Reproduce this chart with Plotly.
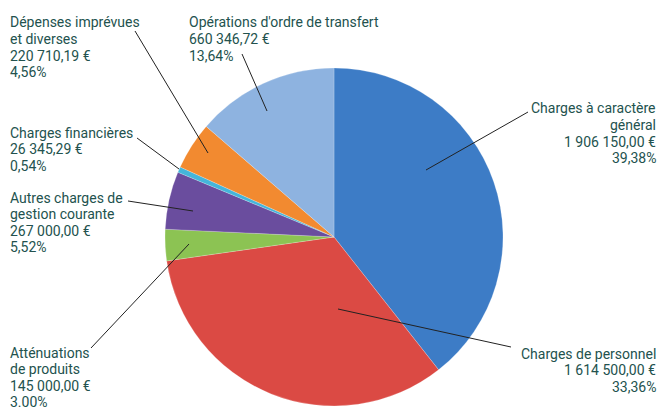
import plotly.graph_objects as go

W, H = 660, 411

categories = [
    "Charges à caractère général",
    "Charges de personnel",
    "Atténuations de produits",
    "Autres charges de gestion courante",
    "Charges financières",
    "Dépenses imprévues et diverses",
    "Opérations d'ordre de transfert",
]
amounts = [1906150.00, 1614500.00, 145000.00, 267000.00, 26345.29, 220710.19, 660346.72]
amount_labels = ["1 906 150,00 €", "1 614 500,00 €", "145 000,00 €", "267 000,00 €",
                 "26 345,29 €", "220 710,19 €", "660 346,72 €"]
percent_labels = ["39,38%", "33,36%", "3.00%", "5,52%", "0,54%", "4,56%", "13,64%"]
label_lines = [
    ["Charges à caractère", "général"],
    ["Charges de personnel"],
    ["Atténuations", "de produits"],
    ["Autres charges de", "gestion courante"],
    ["Charges financières"],
    ["Dépenses imprévues", "et diverses"],
    ["Opérations d'ordre de transfert"],
]
colors = ["#3d7cc6", "#db4a44", "#8cc353", "#6a4d9e", "#45b5da", "#f28a30", "#8eb3e0"]

TEXT_COLOR = "#23524e"
FONT = "Roboto"
FSIZE = 14
LINE_STEP = 16.5

# label placement (pixels): anchor x, first baseline y, alignment; leader line start/end
label_pos = [
    dict(x=657, y=113, align="right", line=((528, 112), (426, 170))),
    dict(x=657, y=358, align="right", line=((511, 347), (338, 309))),
    dict(x=9, y=357, align="left", line=((91, 348), (189, 244))),
    dict(x=9, y=202, align="left", line=((128, 201), (193, 211))),
    dict(x=9, y=137, align="left", line=((137, 138), (179, 169))),
    dict(x=9, y=27, align="left", line=((135, 31), (208, 153))),
    dict(x=188, y=27, align="left", line=((242, 54), (267, 111))),
]

def px(x):
    return x / W

def py(y):
    return 1 - y / H

cx, cy, r = 334, 237, 169

fig = go.Figure()
fig.add_trace(go.Pie(
    labels=categories,
    values=amounts,
    sort=False,
    direction="clockwise",
    rotation=0,
    marker=dict(colors=colors, line=dict(color="rgba(255,255,255,0.35)", width=0.6)),
    textinfo="none",
    hoverinfo="label+percent",
    showlegend=False,
    domain=dict(x=[px(cx - r), px(cx + r)], y=[py(cy + r), py(cy - r)]),
))

shapes = []
annotations = []
for i, cat in enumerate(categories):
    p = label_pos[i]
    (x0, y0), (x1, y1) = p["line"]
    shapes.append(dict(type="line", xref="paper", yref="paper",
                       x0=px(x0), y0=py(y0), x1=px(x1), y1=py(y1),
                       line=dict(color="#222222", width=1)))
    lines = label_lines[i] + [amount_labels[i], percent_labels[i]]
    for k, t in enumerate(lines):
        base = p["y"] + k * LINE_STEP
        annotations.append(dict(
            xref="paper", yref="paper", x=px(p["x"]), y=py(base - 4.5),
            xanchor="right" if p["align"] == "right" else "left", yanchor="middle",
            align=p["align"], showarrow=False, text=t, borderpad=0,
            font=dict(family=FONT, size=FSIZE, color=TEXT_COLOR),
        ))

fig.update_layout(
    width=W, height=H,
    margin=dict(l=0, r=0, t=0, b=0),
    paper_bgcolor="white",
    plot_bgcolor="white",
    shapes=shapes,
    annotations=annotations,
)

fig.write_html("out.html", config={"displayModeBar": False},
               post_script="document.body.style.margin='0';document.body.style.overflow='hidden';")
